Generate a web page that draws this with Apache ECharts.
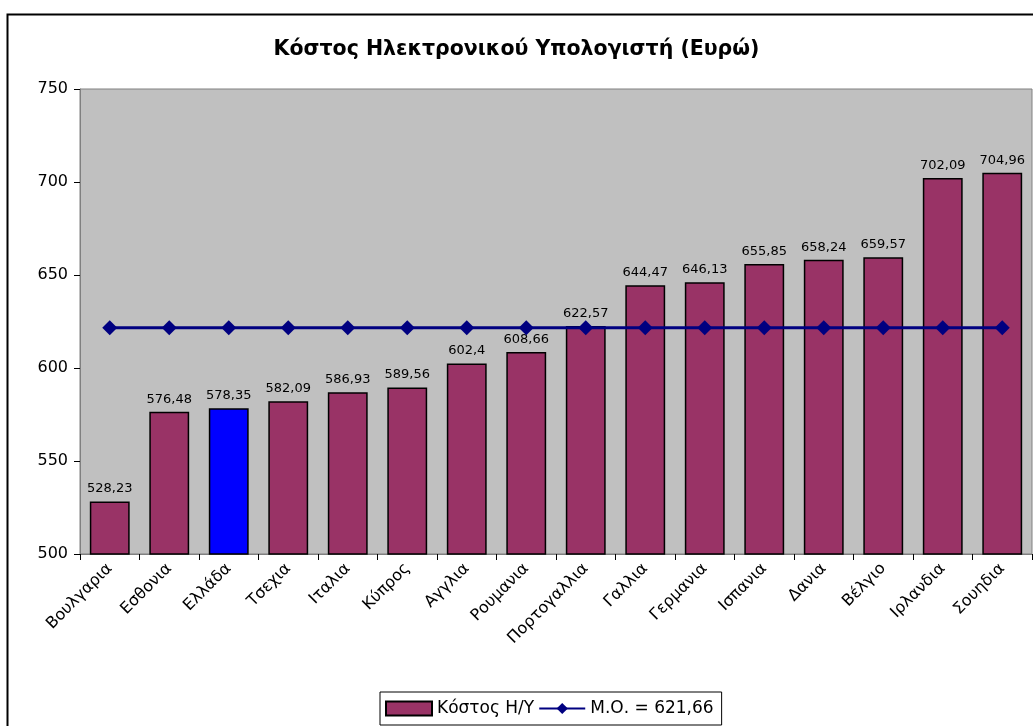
<!DOCTYPE html>
<html>
<head>
<meta charset="utf-8">
<script src="https://cdn.jsdelivr.net/npm/echarts@6/dist/echarts.min.js"></script>
<style>
  html, body { margin: 0; padding: 0; background: #fff; }
  #chart { width: 1033px; height: 726px; }
</style>
</head>
<body>
<div id="chart"></div>
<script>
// χώρες και κόστος Η/Υ
var countries = ['Βουλγαρια', 'Εσθονια', 'Ελλάδα', 'Τσεχια', 'Ιταλια', 'Κύπρος', 'Αγγλια', 'Ρουμανια',
  'Πορτογαλλια', 'Γαλλια', 'Γερμανια', 'Ισπανια', 'Δανια', 'Βέλγιο', 'Ιρλανδια', 'Σουηδια'];
var costs = [528.23, 576.48, 578.35, 582.09, 586.93, 589.56, 602.4, 608.66,
  622.57, 644.47, 646.13, 655.85, 658.24, 659.57, 702.09, 704.96];
var average = [621.66, 621.66, 621.66, 621.66, 621.66, 621.66, 621.66, 621.66,
  621.66, 621.66, 621.66, 621.66, 621.66, 621.66, 621.66, 621.66];
var yTicks = [500, 550, 600, 650, 700, 750];

var font = 'DejaVu Sans';
var chart = echarts.init(document.getElementById('chart'));

var barData = costs.map(function (v, i) {
  if (countries[i] === 'Ελλάδα') {
    return { value: v, itemStyle: { color: '#0000FF' } };
  }
  return v;
});

var option = {
  animation: false,
  textStyle: { fontFamily: font },
  title: {
    text: 'Κόστος Ηλεκτρονικού Υπολογιστή (Ευρώ)',
    left: 'center',
    top: 34,
    textStyle: { fontFamily: font, fontSize: 20.5, fontWeight: 'bold', color: '#000' }
  },
  graphic: [{
    type: 'rect',
    shape: { x: 7.5, y: 14.5, width: 1040, height: 760 },
    style: { fill: null, stroke: '#000', lineWidth: 2 },
    silent: true
  }],
  grid: {
    left: 80, right: 1, top: 89, bottom: 172,
    show: true, backgroundColor: '#C0C0C0', borderColor: '#808080', borderWidth: 1
  },
  legend: {
    bottom: 1,
    left: 380,
    itemGap: 4,
    padding: [8, 8, 8, 5],
    borderColor: '#000',
    borderWidth: 1,
    itemWidth: 46,
    itemHeight: 14,
    textStyle: { fontFamily: font, fontSize: 17, color: '#000' },
    data: [{ name: 'Κόστος Η/Υ', icon: 'rect' }, 'Μ.Ο. = 621,66']
  },
  xAxis: {
    type: 'category',
    data: countries,
    axisLine: { lineStyle: { color: '#808080' } },
    axisTick: { show: true, length: 6, lineStyle: { color: '#000' } },
    axisLabel: { rotate: 45, fontSize: 16, color: '#000', margin: 12, fontFamily: font }
  },
  yAxis: {
    type: 'value',
    min: yTicks[0],
    max: yTicks[yTicks.length - 1],
    interval: 50,
    splitLine: { show: false },
    axisLine: { show: true, lineStyle: { color: '#808080' } },
    axisTick: { show: true, length: 6, lineStyle: { color: '#000' } },
    axisLabel: { fontSize: 16, color: '#000', margin: 12, fontFamily: font }
  },
  series: [{
    name: 'Κόστος Η/Υ',
    type: 'bar',
    data: barData,
    barWidth: '67%',
    itemStyle: { color: '#993366', borderColor: '#000', borderWidth: 1.5 },
    label: {
      show: true,
      position: 'top',
      distance: 6,
      color: '#000',
      fontSize: 13,
      fontFamily: font,
      formatter: function (p) { return String(p.value).replace('.', ','); }
    },
    z: 2
  }, {
    name: 'Μ.Ο. = 621,66',
    type: 'line',
    data: average,
    symbol: 'diamond',
    symbolSize: 15,
    lineStyle: { color: '#000080', width: 3 },
    itemStyle: { color: '#000080' },
    z: 3
  }]
};
chart.setOption(option);
</script>
</body>
</html>
